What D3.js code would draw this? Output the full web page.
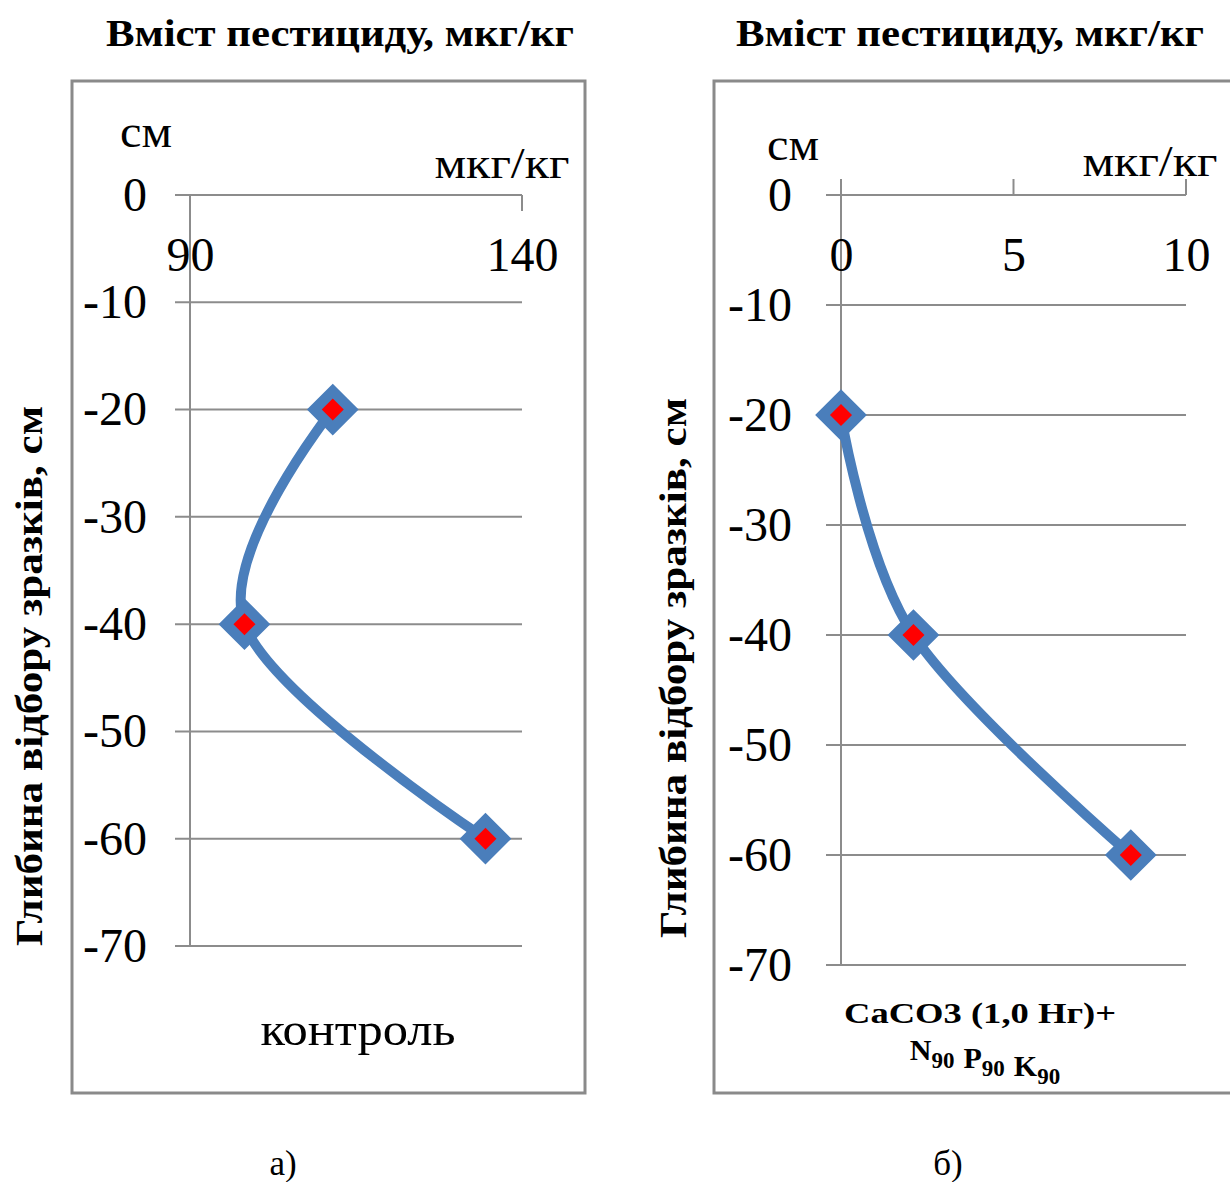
<!DOCTYPE html>
<html>
<head>
<meta charset="utf-8">
<script src="https://cdn.jsdelivr.net/npm/d3@7"></script>
<style>
  body { margin: 0; background: #fff; }
  svg text { font-family: "Liberation Serif", "Times New Roman", serif; fill: #000; }
  .axis path.domain { display: none; }
</style>
</head>
<body>
<div id="chart-area"></div>
<script>
// data
const depths = [-20, -40, -60]
const controlValues = [111.5, 98.2, 134.5]
const limedValues = [0, 2.1, 8.4]

const depthTicks = [0, -10, -20, -30, -40, -50, -60, -70]
const controlTicks = [90, 140]
const limedTicks = [0, 5, 10]

const titleText = "Вміст пестициду, мкг/кг"
const yTitleText = "Глибина відбору зразків, см"

const lineColor = "#4a7ebb"
const gridColor = "#8c8c8c"

const svg = d3.select("#chart-area").append("svg")
    .attr("width", 1230)
    .attr("height", 1182);

// panel settings (pixel layout only)
const panels = [
    {
        values: controlValues, ticks: controlTicks,
        xRange: [190, 522], yRange: [195, 946],
        frame: {x: 72, y: 81, w: 513, h: 1012},
        tickDir: 1, labelPad: 43,
        title: {x: 340, y: 46},
        yTitle: {x: 42, y: 676},
        cm: {x: 146, y: 147}, unit: {x: 502, y: 178},
        caption: {x: 283, y: 1175, text: "а)"}
    },
    {
        values: limedValues, ticks: limedTicks,
        xRange: [841, 1186], yRange: [195, 965],
        frame: {x: 714, y: 81, w: 620, h: 1012},
        tickDir: -1, labelPad: 49,
        title: {x: 970, y: 46},
        yTitle: {x: 686, y: 668},
        cm: {x: 793, y: 160}, unit: {x: 1150, y: 176},
        caption: {x: 948, y: 1175, text: "б)"}
    }
]

panels.forEach(drawPanel)

function drawPanel(p, idx) {
    const x = d3.scaleLinear()
        .domain(d3.extent(p.ticks))
        .range(p.xRange);
    const y = d3.scaleLinear()
        .domain([0, -70])
        .range(p.yRange);

    const g = svg.append("g");

    // title above frame
    g.append("text")
        .attr("x", p.title.x)
        .attr("y", p.title.y)
        .attr("text-anchor", "middle")
        .attr("font-size", "38px")
        .attr("font-weight", "bold")
        .attr("textLength", 468)
        .attr("lengthAdjust", "spacingAndGlyphs")
        .text(titleText);

    // frame
    g.append("rect")
        .attr("x", p.frame.x)
        .attr("y", p.frame.y)
        .attr("width", p.frame.w)
        .attr("height", p.frame.h)
        .attr("fill", "none")
        .attr("stroke", "#8a8a8a")
        .attr("stroke-width", 3);

    // rotated y title
    g.append("text")
        .attr("transform", `translate(${p.yTitle.x}, ${p.yTitle.y}) rotate(-90)`)
        .attr("text-anchor", "middle")
        .attr("font-size", "37px")
        .attr("font-weight", "bold")
        .attr("textLength", 540)
        .attr("lengthAdjust", "spacingAndGlyphs")
        .text(yTitleText);

    // gridlines (start a bit left of the axis, like tick marks)
    g.selectAll("line.grid")
        .data(depthTicks)
        .join("line")
        .attr("class", "grid")
        .attr("x1", x.range()[0] - 15)
        .attr("x2", x.range()[1])
        .attr("y1", d => y(d))
        .attr("y2", d => y(d))
        .attr("stroke", gridColor)
        .attr("stroke-width", 2);

    // x tick marks on the top line
    g.selectAll("line.xtick")
        .data(p.ticks)
        .join("line")
        .attr("class", "xtick")
        .attr("x1", d => x(d))
        .attr("x2", d => x(d))
        .attr("y1", y(0))
        .attr("y2", y(0) + 16 * p.tickDir)
        .attr("stroke", gridColor)
        .attr("stroke-width", 2);

    // vertical axis line
    g.append("line")
        .attr("x1", x.range()[0])
        .attr("x2", x.range()[0])
        .attr("y1", p.tickDir < 0 ? y(0) - 16 : y(0))
        .attr("y2", y(-70))
        .attr("stroke", gridColor)
        .attr("stroke-width", 2);

    // y tick labels (plain hyphen, as in the original)
    g.append("g")
        .attr("class", "axis")
        .attr("transform", `translate(${x.range()[0]}, 0)`)
        .call(d3.axisLeft(y).tickValues(depthTicks).tickSize(0).tickPadding(p.labelPad)
            .tickFormat(d => String(d)))
        .call(a => a.selectAll("text")
            .attr("font-size", "48px")
            .attr("font-family", "Liberation Serif")
            .attr("fill", "#000"));

    // x tick labels
    g.append("g")
        .attr("class", "axis")
        .attr("transform", `translate(0, ${y(0)})`)
        .call(d3.axisBottom(x).tickValues(p.ticks).tickSize(0).tickPadding(42)
            .tickFormat(d => String(d)))
        .call(a => a.selectAll("text")
            .attr("font-size", "48px")
            .attr("font-family", "Liberation Serif")
            .attr("fill", "#000"));

    // unit labels
    g.append("text")
        .attr("x", p.cm.x).attr("y", p.cm.y)
        .attr("text-anchor", "middle")
        .attr("font-size", "46px")
        .attr("textLength", 52)
        .attr("lengthAdjust", "spacingAndGlyphs")
        .text("см");
    g.append("text")
        .attr("x", p.unit.x).attr("y", p.unit.y)
        .attr("text-anchor", "middle")
        .attr("font-size", "45px")
        .attr("textLength", 135)
        .attr("lengthAdjust", "spacingAndGlyphs")
        .text("мкг/кг");

    // smoothed series line
    const pts = depths.map((d, i) => [x(p.values[i]), y(d)]);
    g.append("path")
        .datum(pts)
        .attr("fill", "none")
        .attr("stroke", lineColor)
        .attr("stroke-width", 10)
        .attr("stroke-linecap", "round")
        .attr("d", d3.line().curve(d3.curveCardinal.tension(0)));

    // diamond markers
    g.selectAll("path.marker")
        .data(pts)
        .join("path")
        .attr("class", "marker")
        .attr("transform", d => `translate(${d[0]}, ${d[1]}) rotate(45)`)
        .attr("d", d3.symbol(d3.symbolSquare, 680))
        .attr("fill", "#ff0000")
        .attr("stroke", lineColor)
        .attr("stroke-width", 10.5)
        .attr("stroke-linejoin", "miter");

    // caption below
    svg.append("text")
        .attr("x", p.caption.x)
        .attr("y", p.caption.y)
        .attr("text-anchor", "middle")
        .attr("font-size", "35px")
        .text(p.caption.text);
}

// series names inside the plots
svg.append("text")
    .attr("x", 358)
    .attr("y", 1045)
    .attr("text-anchor", "middle")
    .attr("font-size", "47px")
    .attr("textLength", 195)
    .attr("lengthAdjust", "spacingAndGlyphs")
    .text("контроль");

const seriesB = svg.append("g")
    .attr("font-weight", "bold")
    .attr("font-size", "30px");

seriesB.append("text")
    .attr("x", 980)
    .attr("y", 1023)
    .attr("text-anchor", "middle")
    .attr("textLength", 272)
    .attr("lengthAdjust", "spacingAndGlyphs")
    .text("CaCO3 (1,0 Нг)+");

const npk = seriesB.append("text")
    .attr("x", 985)
    .attr("y", 1060)
    .attr("text-anchor", "middle");
[["N", "90"], ["P", "90"], ["K", "90"]].forEach(([el, sub], i) => {
    npk.append("tspan").attr("dx", i ? 9 : 0).text(el);
    npk.append("tspan").attr("dy", 8).attr("font-size", "23px").text(sub);
    npk.append("tspan").attr("dy", -8).text("");
});
</script>
</body>
</html>
